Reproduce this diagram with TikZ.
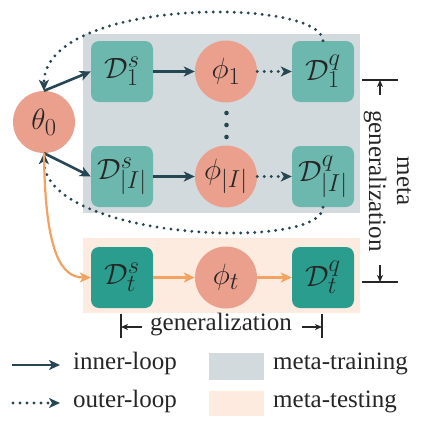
\documentclass[tikz,border=0pt]{standalone}
\usepackage{fontspec}
\setmainfont{Liberation Serif}
\usetikzlibrary{arrows.meta}
\definecolor{navy}{HTML}{264653}
\definecolor{tealL}{HTML}{6DB8AE}
\definecolor{tealD}{HTML}{2A9D8F}
\definecolor{salmon}{HTML}{EBA08D}
\definecolor{grayBG}{HTML}{D3DADD}
\definecolor{peachBG}{HTML}{FDEBE0}
\definecolor{orangeL}{HTML}{F4A261}
\definecolor{txt}{HTML}{262626}
\newcommand{\mth}[1]{\scalebox{1.18}{$#1$}}
\begin{document}
\begin{tikzpicture}[x=1pt,y=-1pt,
  mathnode/.style={font=\fontsize{24.88}{30}\selectfont, text=txt, inner sep=0pt},
  boxL/.style={mathnode, fill=tealL, rounded corners=8pt, minimum width=62pt, minimum height=61pt},
  boxD/.style={mathnode, fill=tealD, rounded corners=8pt, minimum width=62pt, minimum height=61pt},
  circ/.style={mathnode, circle, fill=salmon, minimum size=62pt},
  tip/.style={-{Stealth[length=11pt,width=10pt,inset=3pt]}},
  innerarrow/.style={tip, navy, line width=2.6pt},
  outerarrow/.style={tip, navy, line width=3.2pt, line cap=round, dash pattern=on 0pt off 7pt},
  orangearrow/.style={tip, orangeL, line width=2.2pt},
  dimline/.style={txt, line width=1.2pt},
  dimarrow/.style={txt, line width=1.2pt, -{Stealth[length=7pt,width=6pt,inset=2pt]}},
  lbl/.style={font=\fontsize{25}{30}\selectfont, text=txt, inner sep=0pt}
]
\useasboundingbox (0,0) rectangle (426,434);
\fill[grayBG] (83,34) rectangle (360,213);
\fill[peachBG] (83,238) rectangle (360,313);

\node[circ] (theta) at (44,122) {\mth{\theta_0}};
\node[boxL] (d1s) at (122,71.5) {\mth{\mathcal{D}_1^s}};
\node[circ] (p1) at (226,71.5) {\mth{\phi_1}};
\node[boxL] (d1q) at (323,71.5) {\mth{\mathcal{D}_1^q}};
\node[boxL] (dIs) at (122,176.5) {\mth{\mathcal{D}_{|I|}^s}};
\node[circ] (pI) at (226,176.5) {\mth{\phi_{|I|}}};
\node[boxL] (dIq) at (323,176.5) {\mth{\mathcal{D}_{|I|}^q}};
\node[boxD] (dts) at (122,277.5) {\mth{\mathcal{D}_t^s}};
\node[circ] (pt) at (226,277.5) {\mth{\phi_t}};
\node[boxD] (dtq) at (323,277.5) {\mth{\mathcal{D}_t^q}};

\fill[navy] (226.5,113) circle (2.3pt) (226.5,125) circle (2.3pt) (226.5,137) circle (2.3pt);

\draw[innerarrow] (theta.north) -- (d1s.west);
\draw[innerarrow] (theta.south) -- (dIs.west);
\draw[innerarrow] (d1s) -- (p1);
\draw[innerarrow] (dIs) -- (pI);
\draw[outerarrow] (p1) -- (d1q);
\draw[outerarrow] (pI) -- (dIq);
\draw[outerarrow] (d1q.north) .. controls (322,-3) and (43,-3) .. (theta.north);
\draw[outerarrow] (dIq.south) .. controls (322,252) and (43,240) .. (theta.south);
\draw[orangearrow] (theta.south) .. controls (45,255) and (62,277.5) .. (dts.west);
\draw[orangearrow] (dts) -- (pt);
\draw[orangearrow] (pt) -- (dtq);

% vertical dimension
\coordinate (vt1) at (362,80); \coordinate (vt2) at (398,80);
\coordinate (vb1) at (362,282); \coordinate (vb2) at (398,282);
\draw[dimline] (vt1) -- (vt2);
\draw[dimline] (vb1) -- (vb2);
\node[lbl, rotate=-90] (gen) at (375,181) {generalization};
\node[lbl, rotate=-90] (meta) at (404,181) {meta};
\coordinate (va) at (380,95); \coordinate (vah) at (380,80);
\coordinate (vb) at (380,265); \coordinate (vbh) at (380,282);
\draw[dimarrow] (va) -- (vah);
\draw[dimarrow] (vb) -- (vbh);

% horizontal dimension
\coordinate (hl1) at (121,314); \coordinate (hl2) at (121,338);
\coordinate (hr1) at (322,314); \coordinate (hr2) at (322,338);
\draw[dimline] (hl1) -- (hl2);
\draw[dimline] (hr1) -- (hr2);
\node[lbl] (hgen) at (221,325) {generalization};
\coordinate (ha) at (142,327); \coordinate (hah) at (121,327);
\coordinate (hb) at (302,327); \coordinate (hbh) at (322,327);
\draw[dimarrow] (ha) -- (hah);
\draw[dimarrow] (hb) -- (hbh);

% legend
\coordinate (l1a) at (12,365); \coordinate (l1b) at (60,365);
\coordinate (l2a) at (13,403); \coordinate (l2b) at (60,403);
\draw[innerarrow] (l1a) -- (l1b);
\draw[outerarrow] (l2a) -- (l2b);
\node[lbl, anchor=west] (linner) at (73,363) {inner-loop};
\node[lbl, anchor=west] (louter) at (73,401) {outer-loop};
\fill[grayBG] (209,353) rectangle (264,380);
\fill[peachBG] (209,391) rectangle (264,416);
\node[lbl, anchor=west] (ltrain) at (273,364) {meta-training};
\node[lbl, anchor=west] (ltest) at (273,402) {meta-testing};
\end{tikzpicture}
\end{document}
